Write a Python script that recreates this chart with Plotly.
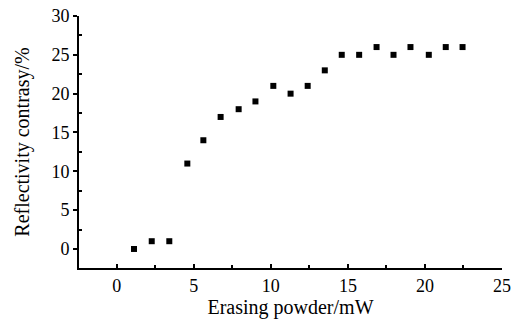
import plotly.graph_objects as go

power_mw = [1.12, 2.27, 3.41, 4.58, 5.62, 6.74, 7.91, 9.0, 10.16, 11.28,
            12.39, 13.5, 14.6, 15.73, 16.86, 17.96, 19.06, 20.25, 21.35, 22.44]
contrast_pct = [0, 1, 1, 11, 14, 17, 18, 19, 21, 20,
                21, 23, 25, 25, 26, 25, 26, 25, 26, 26]
x_ticks = [0, 5, 10, 15, 20, 25]
y_ticks = [0, 5, 10, 15, 20, 25, 30]

font_family = "Liberation Serif, Times New Roman, serif"

fig = go.Figure()
fig.add_trace(go.Scatter(
    x=power_mw, y=contrast_pct, mode="markers",
    marker=dict(symbol="square", size=6, color="black", line=dict(width=0)),
    showlegend=False,
))

fig.update_layout(
    width=513, height=320,
    margin=dict(l=79, r=11, t=16, b=52),
    paper_bgcolor="white", plot_bgcolor="white",
    font=dict(family=font_family, color="black", size=18),
    xaxis=dict(
        range=[-2.45, 25], tickvals=x_ticks, ticks="inside", ticklen=4,
        tickwidth=1.5, tickcolor="black", automargin=False,
        showline=True, linecolor="black", linewidth=2, showgrid=False,
        zeroline=False, tickfont=dict(size=18, family=font_family),
        title=dict(text="Erasing powder/mW", font=dict(size=20, family=font_family), standoff=0),
        minor=dict(tickvals=[-2.5, 2.5, 7.5, 12.5, 17.5, 22.5], ticks="inside", ticklen=3, tickcolor="black"),
    ),
    yaxis=dict(
        range=[-2.45, 30], tickvals=y_ticks, ticks="outside", ticklen=4,
        tickwidth=1.5, tickcolor="black", automargin=False,
        showline=True, linecolor="black", linewidth=2, showgrid=False,
        zeroline=False, tickfont=dict(size=18, family=font_family),
        title=dict(text="Reflectivity contrasy/%", font=dict(size=20, family=font_family), standoff=16),
        minor=dict(tickvals=[2.5, 7.5, 12.5, 17.5, 22.5, 27.5], ticks="inside", ticklen=3, tickcolor="black"),
    ),
)

fig.write_html("out.html", config={"displayModeBar": False},
               post_script="document.body.style.margin='0';")
